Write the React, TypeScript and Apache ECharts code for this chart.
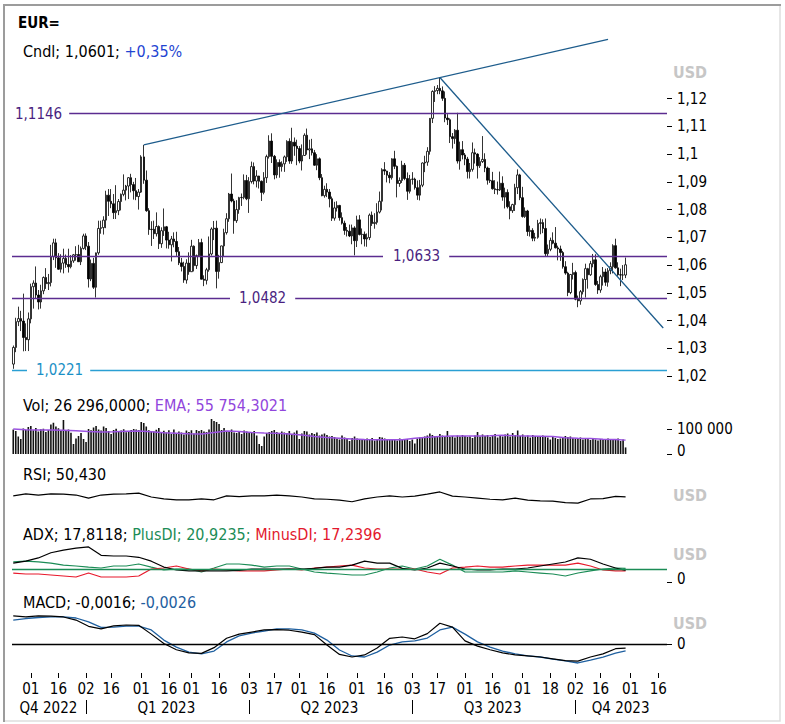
import React, { useEffect, useRef } from 'react';
import * as echarts from 'echarts';

const FONT = '"DejaVu Sans Condensed", "Liberation Sans", "DejaVu Sans", sans-serif';

// ---------------- data ----------------
const firstDay = '2022-11-22';
const axisDays = 261;

const opens = [
  1.0243, 1.0303, 1.0396, 1.0407, 1.0398, 1.0339, 1.0331, 1.0406, 1.0522, 1.0535,
  1.0492, 1.0467, 1.0507, 1.0555, 1.0533, 1.0537, 1.0631, 1.0680, 1.0626, 1.0585,
  1.0607, 1.0624, 1.0602, 1.0594, 1.0615, 1.0637, 1.0638, 1.0612, 1.0660, 1.0705,
  1.0668, 1.0550, 1.0606, 1.0520, 1.0644, 1.0732, 1.0735, 1.0762, 1.0852, 1.0830,
  1.0821, 1.0789, 1.0796, 1.0829, 1.0855, 1.0870, 1.0885, 1.0915, 1.0890, 1.0868,
  1.0847, 1.0863, 1.0990, 1.0906, 1.0796, 1.0728, 1.0729, 1.0713, 1.0739, 1.0677,
  1.0724, 1.0738, 1.0690, 1.0673, 1.0694, 1.0685, 1.0648, 1.0608, 1.0595, 1.0546,
  1.0607, 1.0576, 1.0668, 1.0598, 1.0634, 1.0681, 1.0549, 1.0545, 1.0583, 1.0640,
  1.0730, 1.0733, 1.0577, 1.0609, 1.0669, 1.0717, 1.0767, 1.0856, 1.0831, 1.0760,
  1.0800, 1.0843, 1.0844, 1.0905, 1.0839, 1.0901, 1.0955, 1.0903, 1.0921, 1.0902,
  1.0862, 1.0915, 1.0991, 1.1047, 1.0992, 1.0925, 1.0970, 1.0955, 1.0965, 1.0990,
  1.1046, 1.0975, 1.1043, 1.1029, 1.1020, 1.0975, 1.0995, 1.1068, 1.1015, 1.1019,
  1.1005, 1.0960, 1.0983, 1.0915, 1.0850, 1.0873, 1.0863, 1.0839, 1.0769, 1.0806,
  1.0815, 1.0771, 1.0751, 1.0725, 1.0722, 1.0705, 1.0734, 1.0688, 1.0763, 1.0710,
  1.0711, 1.0694, 1.0699, 1.0780, 1.0750, 1.0754, 1.0791, 1.0830, 1.0944, 1.0939,
  1.0924, 1.0915, 1.0983, 1.0956, 1.0894, 1.0905, 1.0960, 1.0912, 1.0866, 1.0909,
  1.0910, 1.0879, 1.0852, 1.0888, 1.0968, 1.0971, 1.1010, 1.1129, 1.1226, 1.1229,
  1.1237, 1.1228, 1.1201, 1.1130, 1.1124, 1.1063, 1.1056, 1.1086, 1.0975, 1.1016,
  1.0997, 1.0982, 1.0937, 1.0945, 1.1005, 1.1000, 1.0958, 1.0973, 1.0981, 1.0950,
  1.0906, 1.0904, 1.0875, 1.0872, 1.0871, 1.0895, 1.0845, 1.0862, 1.0810, 1.0796,
  1.0818, 1.0879, 1.0925, 1.0843, 1.0775, 1.0795, 1.0721, 1.0725, 1.0697, 1.0700,
  1.0750, 1.0753, 1.0732, 1.0641, 1.0657, 1.0689, 1.0679, 1.0662, 1.0658, 1.0645,
  1.0594, 1.0571, 1.0501, 1.0566, 1.0573, 1.0477, 1.0471, 1.0504, 1.0548, 1.0587,
  1.0565, 1.0605, 1.0619, 1.0530, 1.0510, 1.0558, 1.0575, 1.0538, 1.0580, 1.0594,
  1.0670, 1.0590, 1.0565, 1.0564, 1.0564
];
const highs = [
  1.0310, 1.0410, 1.0450, 1.0435, 1.0497, 1.0390, 1.0429, 1.0533, 1.0545, 1.0595,
  1.0510, 1.0529, 1.0559, 1.0589, 1.0568, 1.0673, 1.0695, 1.0695, 1.0643, 1.0639,
  1.0659, 1.0638, 1.0659, 1.0636, 1.0640, 1.0668, 1.0673, 1.0667, 1.0713, 1.0714,
  1.0683, 1.0620, 1.0626, 1.0645, 1.0760, 1.0760, 1.0776, 1.0868, 1.0874, 1.0874,
  1.0856, 1.0888, 1.0838, 1.0858, 1.0927, 1.0889, 1.0917, 1.0929, 1.0900, 1.0914,
  1.0874, 1.0996, 1.1033, 1.0941, 1.0805, 1.0758, 1.0760, 1.0790, 1.0743, 1.0736,
  1.0804, 1.0741, 1.0720, 1.0705, 1.0718, 1.0720, 1.0665, 1.0626, 1.0612, 1.0621,
  1.0646, 1.0691, 1.0671, 1.0638, 1.0694, 1.0695, 1.0563, 1.0590, 1.0703, 1.0736,
  1.0759, 1.0760, 1.0637, 1.0670, 1.0731, 1.0787, 1.0860, 1.0930, 1.0839, 1.0834,
  1.0846, 1.0858, 1.0927, 1.0925, 1.0917, 1.0973, 1.0970, 1.0942, 1.0922, 1.0905,
  1.0935, 1.0998, 1.1068, 1.1075, 1.0997, 1.0981, 1.0981, 1.0974, 1.0995, 1.1050,
  1.1057, 1.1095, 1.1060, 1.1052, 1.1029, 1.1035, 1.1075, 1.1092, 1.1052, 1.1055,
  1.1015, 1.1000, 1.0988, 1.0928, 1.0886, 1.0895, 1.0874, 1.0847, 1.0828, 1.0830,
  1.0817, 1.0790, 1.0760, 1.0737, 1.0746, 1.0746, 1.0740, 1.0778, 1.0780, 1.0732,
  1.0721, 1.0714, 1.0786, 1.0793, 1.0787, 1.0823, 1.0865, 1.0949, 1.0971, 1.0940,
  1.0935, 1.0985, 1.1012, 1.0959, 1.0916, 1.0976, 1.0968, 1.0934, 1.0925, 1.0935,
  1.0915, 1.0905, 1.0907, 1.0970, 1.0994, 1.1025, 1.1130, 1.1230, 1.1245, 1.1249,
  1.1276, 1.1244, 1.1226, 1.1144, 1.1129, 1.1076, 1.1090, 1.1149, 1.1045, 1.1047,
  1.1004, 1.0990, 1.0968, 1.1042, 1.1020, 1.1003, 1.0989, 1.1065, 1.1003, 1.0955,
  1.0950, 1.0936, 1.0906, 1.0901, 1.0937, 1.0920, 1.0879, 1.0873, 1.0830, 1.0821,
  1.0893, 1.0945, 1.0929, 1.0882, 1.0808, 1.0799, 1.0742, 1.0733, 1.0716, 1.0763,
  1.0768, 1.0765, 1.0768, 1.0674, 1.0699, 1.0718, 1.0737, 1.0670, 1.0670, 1.0651,
  1.0614, 1.0576, 1.0568, 1.0608, 1.0580, 1.0490, 1.0510, 1.0552, 1.0605, 1.0590,
  1.0615, 1.0640, 1.0639, 1.0543, 1.0565, 1.0593, 1.0587, 1.0589, 1.0610, 1.0675,
  1.0695, 1.0610, 1.0587, 1.0600, 1.0627
];
const lows = [
  1.0226, 1.0286, 1.0380, 1.0362, 1.0289, 1.0290, 1.0290, 1.0390, 1.0443, 1.0480,
  1.0440, 1.0443, 1.0495, 1.0514, 1.0510, 1.0523, 1.0618, 1.0590, 1.0583, 1.0573,
  1.0570, 1.0590, 1.0573, 1.0588, 1.0608, 1.0616, 1.0611, 1.0600, 1.0656, 1.0654,
  1.0519, 1.0542, 1.0514, 1.0483, 1.0637, 1.0713, 1.0710, 1.0733, 1.0777, 1.0805,
  1.0766, 1.0766, 1.0780, 1.0797, 1.0848, 1.0833, 1.0838, 1.0862, 1.0836, 1.0834,
  1.0800, 1.0860, 1.0893, 1.0792, 1.0709, 1.0669, 1.0694, 1.0703, 1.0658, 1.0662,
  1.0705, 1.0660, 1.0659, 1.0613, 1.0664, 1.0633, 1.0600, 1.0577, 1.0536, 1.0533,
  1.0565, 1.0575, 1.0577, 1.0586, 1.0631, 1.0548, 1.0524, 1.0530, 1.0576, 1.0634,
  1.0690, 1.0516, 1.0551, 1.0607, 1.0630, 1.0710, 1.0756, 1.0826, 1.0713, 1.0752,
  1.0785, 1.0813, 1.0837, 1.0834, 1.0788, 1.0894, 1.0891, 1.0880, 1.0876, 1.0831,
  1.0855, 1.0896, 1.0984, 1.0968, 1.0909, 1.0913, 1.0915, 1.0937, 1.0936, 1.0972,
  1.0965, 1.0965, 1.0994, 1.0960, 1.0967, 1.0941, 1.0994, 1.0998, 1.0982, 1.0995,
  1.0958, 1.0942, 1.0906, 1.0848, 1.0843, 1.0845, 1.0808, 1.0759, 1.0760, 1.0793,
  1.0760, 1.0746, 1.0709, 1.0703, 1.0701, 1.0675, 1.0635, 1.0665, 1.0707, 1.0675,
  1.0667, 1.0666, 1.0690, 1.0741, 1.0731, 1.0746, 1.0786, 1.0797, 1.0925, 1.0898,
  1.0895, 1.0908, 1.0946, 1.0844, 1.0882, 1.0896, 1.0906, 1.0835, 1.0858, 1.0890,
  1.0872, 1.0835, 1.0833, 1.0881, 1.0935, 1.0958, 1.0998, 1.1112, 1.1188, 1.1216,
  1.1216, 1.1192, 1.1115, 1.1105, 1.1040, 1.1020, 1.1037, 1.0966, 1.0944, 1.0981,
  1.0960, 1.0912, 1.0912, 1.0937, 1.0966, 1.0912, 1.0950, 1.0968, 1.0935, 1.0890,
  1.0896, 1.0872, 1.0856, 1.0854, 1.0867, 1.0832, 1.0804, 1.0804, 1.0765, 1.0788,
  1.0795, 1.0856, 1.0834, 1.0771, 1.0770, 1.0705, 1.0703, 1.0686, 1.0686, 1.0695,
  1.0711, 1.0715, 1.0631, 1.0632, 1.0650, 1.0675, 1.0660, 1.0617, 1.0615, 1.0587,
  1.0565, 1.0488, 1.0495, 1.0548, 1.0473, 1.0448, 1.0457, 1.0494, 1.0483, 1.0515,
  1.0561, 1.0592, 1.0525, 1.0496, 1.0500, 1.0526, 1.0525, 1.0522, 1.0567, 1.0570,
  1.0587, 1.0561, 1.0524, 1.0546, 1.0553
];
const closes = [
  1.0303, 1.0396, 1.0407, 1.0398, 1.0339, 1.0331, 1.0406, 1.0522, 1.0535, 1.0492,
  1.0467, 1.0507, 1.0555, 1.0533, 1.0537, 1.0631, 1.0680, 1.0626, 1.0585, 1.0607,
  1.0624, 1.0602, 1.0594, 1.0615, 1.0637, 1.0638, 1.0612, 1.0660, 1.0705, 1.0668,
  1.0550, 1.0606, 1.0520, 1.0644, 1.0732, 1.0735, 1.0762, 1.0852, 1.0830, 1.0821,
  1.0789, 1.0796, 1.0829, 1.0855, 1.0870, 1.0885, 1.0915, 1.0890, 1.0868, 1.0847,
  1.0863, 1.0990, 1.0906, 1.0796, 1.0728, 1.0729, 1.0713, 1.0739, 1.0677, 1.0724,
  1.0738, 1.0690, 1.0673, 1.0694, 1.0685, 1.0648, 1.0608, 1.0595, 1.0546, 1.0607,
  1.0576, 1.0668, 1.0598, 1.0634, 1.0681, 1.0549, 1.0545, 1.0583, 1.0640, 1.0730,
  1.0733, 1.0577, 1.0609, 1.0669, 1.0717, 1.0767, 1.0856, 1.0831, 1.0760, 1.0800,
  1.0843, 1.0844, 1.0905, 1.0839, 1.0901, 1.0955, 1.0903, 1.0921, 1.0902, 1.0862,
  1.0915, 1.0991, 1.1047, 1.0992, 1.0925, 1.0970, 1.0955, 1.0965, 1.0990, 1.1046,
  1.0975, 1.1043, 1.1029, 1.1020, 1.0975, 1.0995, 1.1068, 1.1015, 1.1019, 1.1005,
  1.0960, 1.0983, 1.0915, 1.0850, 1.0873, 1.0863, 1.0839, 1.0769, 1.0806, 1.0815,
  1.0771, 1.0751, 1.0725, 1.0722, 1.0705, 1.0734, 1.0688, 1.0763, 1.0710, 1.0711,
  1.0694, 1.0699, 1.0780, 1.0750, 1.0754, 1.0791, 1.0830, 1.0944, 1.0939, 1.0924,
  1.0915, 1.0983, 1.0956, 1.0894, 1.0905, 1.0960, 1.0912, 1.0866, 1.0909, 1.0910,
  1.0879, 1.0852, 1.0888, 1.0968, 1.0971, 1.1010, 1.1129, 1.1226, 1.1229, 1.1237,
  1.1228, 1.1201, 1.1130, 1.1124, 1.1063, 1.1056, 1.1086, 1.0975, 1.1016, 1.0997,
  1.0982, 1.0937, 1.0945, 1.1005, 1.1000, 1.0958, 1.0973, 1.0981, 1.0950, 1.0906,
  1.0904, 1.0875, 1.0872, 1.0871, 1.0895, 1.0845, 1.0862, 1.0810, 1.0796, 1.0818,
  1.0879, 1.0925, 1.0843, 1.0775, 1.0795, 1.0721, 1.0725, 1.0697, 1.0700, 1.0750,
  1.0753, 1.0732, 1.0641, 1.0657, 1.0689, 1.0679, 1.0662, 1.0658, 1.0645, 1.0594,
  1.0571, 1.0501, 1.0566, 1.0573, 1.0477, 1.0471, 1.0504, 1.0548, 1.0587, 1.0565,
  1.0605, 1.0619, 1.0530, 1.0510, 1.0558, 1.0575, 1.0538, 1.0580, 1.0594, 1.0670,
  1.0590, 1.0565, 1.0564, 1.0564, 1.0601
];
// volume, thousands
const volumesK = [
  98, 92, 70, 60, 102, 96, 108, 112, 95, 104,
  90, 99, 101, 88, 96, 118, 125, 110, 103, 92,
  136, 92, 98, 85, 40, 62, 72, 84, 60, 48,
  100, 95, 106, 112, 98, 94, 110, 104, 92, 80,
  96, 101, 88, 94, 99, 87, 92, 96, 100, 98,
  96, 128, 124, 110, 95, 92, 90, 97, 104, 88,
  93, 86, 95, 80, 98, 84, 90, 86, 78, 94,
  88, 95, 82, 96, 92, 96, 90, 88, 98, 140,
  132, 128, 120, 96, 104, 92, 90, 98, 86, 84,
  88, 80, 94, 90, 86, 88, 92, 74, 40, 32,
  70, 84, 88, 92, 96, 88, 82, 90, 86, 84,
  92, 80, 86, 94, 60, 82, 92, 90, 78, 84,
  80, 86, 74, 78, 82, 76, 70, 72, 68, 62,
  58, 74, 66, 60, 52, 64, 70, 62, 58, 60,
  56, 62, 58, 64, 54, 60, 68, 66, 62, 58,
  56, 60, 58, 54, 62, 58, 56, 60, 52, 58,
  42, 62, 66, 64, 70, 74, 82, 76, 72, 68,
  80, 74, 70, 92, 68, 72, 66, 74, 70, 76,
  72, 68, 70, 64, 74, 88, 70, 78, 72, 76,
  68, 72, 80, 66, 74, 70, 78, 82, 70, 84,
  76, 94, 72, 78, 70, 74, 66, 76, 72, 70,
  68, 74, 72, 66, 58, 70, 64, 60, 62, 66,
  72, 68, 70, 64, 62, 60, 66, 58, 60, 62,
  56, 60, 58, 54, 60, 58, 56, 62, 60, 58,
  56, 62, 52, 58, 26.296
];
// indicators, read weekly (every 5th session, plus the last one)
const volEmaK = [
  100, 97, 96, 96, 95, 93, 90, 88, 89, 91,
  92, 89, 85, 83, 81, 80, 86, 92, 90, 86,
  84, 83, 80, 76, 70, 66, 63, 60, 58, 57,
  57, 57, 63, 67, 70, 72, 72, 72, 73, 75,
  73, 72, 71, 70, 65, 63, 62, 59, 58, 55.754
];
const rsiVals = [
  54, 61, 57, 61, 60, 57, 46, 57, 60, 61,
  64, 50, 43, 40, 40, 43, 40, 54, 51, 54,
  54, 57, 54, 50, 43, 42, 39, 33, 43, 50,
  54, 50, 53, 60, 68, 53, 50, 46, 42, 40,
  46, 39, 36, 35, 30, 28, 43, 44, 52, 50.43
];
const adxVals = [
  29, 32, 37, 45, 49, 52, 54, 41, 40, 40,
  38, 32, 23, 18.5, 17, 17, 17, 17, 18, 20,
  20, 20, 20, 20, 21, 23, 23, 26, 32, 29,
  29, 21, 18.5, 21.5, 29, 24.6, 20, 18.5, 18.5, 20,
  20, 21.5, 24.6, 27.7, 30.8, 37, 35, 27.7, 21.5, 17.8118
];
const plusDIVals = [
  31, 32, 31, 29, 26, 24.6, 23, 21.5, 24.6, 24.6,
  27.7, 23, 18.5, 20, 20, 15.4, 21.5, 27.7, 27.7, 26,
  23, 24.6, 24.6, 20, 15.4, 13.8, 12.3, 10.8, 10.8, 15.4,
  21.5, 24.6, 20, 24.6, 35, 26, 15.4, 15.4, 15.4, 15.4,
  17, 15.4, 13.8, 12.3, 9.2, 13.8, 17, 20, 21.5, 20.9235
];
const minusDIVals = [
  13.8, 12.3, 12.3, 10.8, 9.2, 7.7, 13.8, 7.7, 7.7, 7.7,
  9.2, 20, 21.5, 24.6, 20, 17, 20, 18.5, 17, 17,
  17, 18.5, 20, 18.5, 21.5, 23, 24.6, 26, 21.5, 20,
  20, 20, 20, 15.4, 12.3, 21.5, 23, 24.6, 23, 23,
  24.6, 26, 26, 26, 26, 29, 24.6, 18.5, 17, 17.2396
];
const macdVals = [
  0.0108, 0.0104, 0.0108, 0.0107, 0.0104, 0.0092, 0.0068, 0.0058, 0.0070, 0.0073,
  0.0072, 0.0038, 0.0002, -0.0022, -0.0034, -0.0036, -0.0014, 0.0022, 0.0038, 0.0046,
  0.0054, 0.0055, 0.0053, 0.0046, 0.0036, -0.0004, -0.0040, -0.0050, -0.0042, -0.0015,
  0.0022, 0.0027, 0.0020, 0.0040, 0.0080, 0.0065, 0.0012, -0.0008, -0.0022, -0.0034,
  -0.0042, -0.0046, -0.0050, -0.0057, -0.0064, -0.0066, -0.0050, -0.0038, -0.0018, -0.0016
];
const signalVals = [
  0.0092, 0.0098, 0.0102, 0.0104, 0.0104, 0.0100, 0.0085, 0.0064, 0.0065, 0.0069,
  0.0069, 0.0054, 0.0015, -0.0012, -0.0031, -0.0038, -0.0027, 0.0008, 0.0031, 0.0042,
  0.0050, 0.0058, 0.0058, 0.0054, 0.0042, 0.0015, -0.0023, -0.0046, -0.0050, -0.0031,
  -0.0004, 0.0008, 0.0012, 0.0023, 0.0054, 0.0065, 0.0038, 0.0008, -0.0012, -0.0027,
  -0.0038, -0.0046, -0.0050, -0.0058, -0.0065, -0.0073, -0.0062, -0.0050, -0.0035, -0.0026
];

const priceTicks = [1.02, 1.03, 1.04, 1.05, 1.06, 1.07, 1.08, 1.09, 1.1, 1.11, 1.12];
const volTicksK = [0, 100];
const levelValues = [1.1146, 1.0633, 1.0482];
const baseLevel = 1.0221;
const adxLevel = 20;
const upTrendAnchors: [string, number][] = [['2023-02-02', 1.1033], ['2023-07-18', 1.1276]];
const upTrendEnd = '2023-10-19';
const downTrendAnchors: [string, number][] = [['2023-07-18', 1.1276], ['2023-11-20', 1.0373]];
const dayLabelDates = [
  '2022-12-01', '2022-12-16', '2023-01-02', '2023-01-16', '2023-02-01', '2023-02-16',
  '2023-03-01', '2023-03-16', '2023-04-03', '2023-04-17', '2023-05-01', '2023-05-16',
  '2023-06-01', '2023-06-16', '2023-07-03', '2023-07-17', '2023-08-01', '2023-08-16',
  '2023-09-01', '2023-09-18', '2023-10-02', '2023-10-16', '2023-11-01', '2023-11-16'
];
const quarterStarts = ['2023-01-02', '2023-04-03', '2023-07-03', '2023-10-02'];
const quarterNames = ['Q4 2022', 'Q1 2023', 'Q2 2023', 'Q3 2023', 'Q4 2023'];

// ---------------- helpers ----------------
function buildDates(start: string, n: number): string[] {
  const out: string[] = [];
  const d = new Date(start + 'T00:00:00Z');
  while (out.length < n) {
    const wd = d.getUTCDay();
    if (wd !== 0 && wd !== 6) out.push(d.toISOString().slice(0, 10));
    d.setUTCDate(d.getUTCDate() + 1);
  }
  return out;
}
const comma = (s: string) => s.replace('.', ',');
const fmt4 = (v: number) => comma(v.toFixed(4));
const spaced = (n: number) => String(Math.round(n)).replace(/\B(?=(\d{3})+(?!\d))/g, ' ');

export default function App() {
  const ref = useRef<HTMLDivElement>(null);

  useEffect(() => {
    if (!ref.current) return;
    const chart = echarts.init(ref.current, null, { renderer: 'svg' });

    const dates = buildDates(firstDay, axisDays);
    const idxOf = (d: string) => dates.indexOf(d);
    const lastIdx = closes.length - 1;
    const sampleIdx = volEmaK.map((_, k) => (k < volEmaK.length - 1 ? k * 5 : lastIdx));
    const pairs = (vals: number[]) => vals.map((v, k) => [sampleIdx[k], v]);

    const dayLabelSet = new Set(dayLabelDates);
    const qStartSet = new Set(quarterStarts);
    const bounds = [0, ...quarterStarts.map(idxOf), dates.length];
    const qMid: Record<number, string> = {};
    quarterNames.forEach((name, q) => {
      qMid[Math.round((bounds[q] + bounds[q + 1] - 1) / 2)] = name;
    });

    const [uA, uB] = upTrendAnchors;
    const uAi = idxOf(uA[0]);
    const uBi = idxOf(uB[0]);
    const uEi = idxOf(upTrendEnd);
    const uEv = uA[1] + ((uB[1] - uA[1]) * (uEi - uAi)) / (uBi - uAi);

    const trendStyle = { color: '#1d5c8c', width: 1.3, type: 'solid' };
    const levelLayout = [
      { dx: 0, pad: [1, 7, 1, 3] },
      { dx: 371, pad: [1, 9, 1, 10] },
      { dx: 218, pad: [1, 9, 1, 9] }
    ];

    const gridBase = { left: 12, right: 118 };
    const hiddenX = (gi: number) => ({
      type: 'category', gridIndex: gi, data: dates, boundaryGap: true, show: false,
      axisLine: { show: false, onZero: false }
    });
    const labelStyle = { color: '#000', fontSize: 15, fontFamily: FONT };
    const zeroRich = { z: { padding: [0, 0, 6, 0], color: '#000', fontSize: 15, fontFamily: FONT } };

    const headerText = (y: number, parts: [string, string][]) => ({
      type: 'text', x: 23, y, silent: true,
      style: {
        text: parts.map((p, j) => `{s${j}|${p[0]}}`).join(''),
        rich: Object.fromEntries(parts.map((p, j) => [`s${j}`, { fill: p[1], fontSize: 16, fontFamily: FONT }])),
        fontSize: 16, fontFamily: FONT, verticalAlign: 'middle'
      }
    });
    const usd = (y: number) => ({
      type: 'text', x: 673, y, silent: true,
      style: { text: 'USD', fill: '#c6c6c6', fontSize: 16, fontWeight: 'bold', fontFamily: FONT, verticalAlign: 'middle' }
    });

    const option: any = {
      animation: false,
      backgroundColor: '#ffffff',
      textStyle: { fontFamily: FONT },
      grid: [
        { ...gridBase, top: 39, height: 347 },
        { ...gridBase, top: 415, height: 39 },
        { ...gridBase, top: 483, height: 28 },
        { ...gridBase, top: 540, height: 42 },
        { ...gridBase, top: 605, height: 68 }
      ],
      xAxis: [
        hiddenX(0), hiddenX(1), hiddenX(2), hiddenX(3),
        {
          type: 'category', gridIndex: 4, data: dates, boundaryGap: true, position: 'bottom',
          axisLine: { show: false, onZero: false },
          axisTick: {
            show: true, alignWithLabel: true, length: 5,
            interval: (_i: number, v: string) => dayLabelSet.has(v),
            lineStyle: { color: '#000', width: 1 }
          },
          axisLabel: {
            ...labelStyle, margin: 8,
            interval: (_i: number, v: string) => dayLabelSet.has(v),
            formatter: (v: string) => v.slice(8)
          },
          splitLine: { show: false }
        },
        {
          type: 'category', gridIndex: 4, data: dates, boundaryGap: true, position: 'bottom', offset: 27,
          axisLine: { show: false, onZero: false },
          axisTick: {
            show: true, alignWithLabel: true, length: 14,
            interval: (_i: number, v: string) => qStartSet.has(v),
            lineStyle: { color: '#000', width: 1 }
          },
          axisLabel: {
            ...labelStyle, margin: 0,
            interval: (i: number) => qMid[i] !== undefined,
            formatter: (_v: string, i: number) => qMid[i] || ''
          },
          splitLine: { show: false }
        }
      ],
      yAxis: [
        {
          type: 'value', gridIndex: 0, position: 'right', min: 1.0164, max: 1.1415,
          axisLine: { show: false }, splitLine: { show: false },
          axisTick: { show: true, length: 5, customValues: priceTicks, lineStyle: { color: '#000' } },
          axisLabel: { ...labelStyle, margin: 10, customValues: priceTicks, formatter: (v: number) => comma(String(+v.toFixed(2))) }
        },
        {
          type: 'value', gridIndex: 1, position: 'right', min: 0, max: 156,
          axisLine: { show: false }, splitLine: { show: false },
          axisTick: { show: true, length: 5, customValues: volTicksK, lineStyle: { color: '#000' } },
          axisLabel: {
            ...labelStyle, margin: 10, customValues: volTicksK, rich: zeroRich,
            formatter: (v: number) => (v === 0 ? '{z|0}' : spaced(v * 1000))
          }
        },
        { type: 'value', gridIndex: 2, min: 0, max: 100, show: false },
        {
          type: 'value', gridIndex: 3, position: 'right', min: 0, max: 64.6,
          axisLine: { show: false }, splitLine: { show: false },
          axisTick: { show: true, length: 5, customValues: [0], lineStyle: { color: '#000' } },
          axisLabel: { ...labelStyle, margin: 10, customValues: [0], rich: zeroRich, formatter: () => '{z|0}' }
        },
        {
          type: 'value', gridIndex: 4, position: 'right', min: -0.01115, max: 0.015,
          axisLine: { show: false }, splitLine: { show: false },
          axisTick: { show: true, length: 5, customValues: [0], lineStyle: { color: '#000' } },
          axisLabel: { ...labelStyle, margin: 10, customValues: [0], formatter: () => '0' }
        }
      ],
      series: [
        {
          type: 'candlestick', xAxisIndex: 0, yAxisIndex: 0, barWidth: 2,
          data: closes.map((c, i) => [opens[i], c, lows[i], highs[i]]),
          itemStyle: { color: '#ffffff', color0: '#000000', borderColor: '#000000', borderColor0: '#000000', borderWidth: 0.8 },
          markLine: {
            silent: true, symbol: ['none', 'none'], animation: false, precision: 4,
            data: [
              ...levelValues.map((v, j) => ({
                yAxis: v,
                lineStyle: { color: '#5b2c90', width: 1.3, type: 'solid' },
                label: {
                  show: true, position: 'insideStart', distance: [levelLayout[j].dx, 0],
                  formatter: fmt4(v), color: '#4a1f80', fontSize: 15, fontFamily: FONT,
                  backgroundColor: '#ffffff', padding: levelLayout[j].pad
                }
              })),
              {
                yAxis: baseLevel,
                lineStyle: { color: '#2a9fd3', width: 1.3, type: 'solid' },
                label: {
                  show: true, position: 'insideStart', distance: [15, 0],
                  formatter: fmt4(baseLevel), color: '#1a90c6', fontSize: 15, fontFamily: FONT,
                  backgroundColor: '#ffffff', padding: [1, 7, 1, 9]
                }
              },
              [
                { coord: [uAi, uA[1]], lineStyle: trendStyle, label: { show: false } },
                { coord: [uEi, uEv] }
              ],
              [
                { coord: [idxOf(downTrendAnchors[0][0]), downTrendAnchors[0][1]], lineStyle: trendStyle, label: { show: false } },
                { coord: [idxOf(downTrendAnchors[1][0]), downTrendAnchors[1][1]] }
              ]
            ]
          }
        },
        {
          type: 'bar', xAxisIndex: 1, yAxisIndex: 1, data: volumesK, barWidth: 1.6,
          itemStyle: { color: '#111111' }
        },
        {
          type: 'line', xAxisIndex: 1, yAxisIndex: 1, data: pairs(volEmaK), symbol: 'none',
          lineStyle: { color: '#9a52e0', width: 1.3 }
        },
        {
          type: 'line', xAxisIndex: 2, yAxisIndex: 2, data: pairs(rsiVals), symbol: 'none',
          lineStyle: { color: '#000', width: 1.2 }
        },
        {
          type: 'line', xAxisIndex: 3, yAxisIndex: 3, data: pairs(plusDIVals), symbol: 'none',
          lineStyle: { color: '#1b8c56', width: 1.2 },
          markLine: {
            silent: true, symbol: ['none', 'none'], animation: false, label: { show: false }, precision: 4,
            lineStyle: { color: '#1b8c56', width: 1.3, type: 'solid' },
            data: [{ yAxis: adxLevel }]
          }
        },
        {
          type: 'line', xAxisIndex: 3, yAxisIndex: 3, data: pairs(minusDIVals), symbol: 'none',
          lineStyle: { color: '#e8192c', width: 1.2 }
        },
        {
          type: 'line', xAxisIndex: 3, yAxisIndex: 3, data: pairs(adxVals), symbol: 'none',
          lineStyle: { color: '#000', width: 1.2 }
        },
        {
          type: 'line', xAxisIndex: 4, yAxisIndex: 4, data: pairs(signalVals), symbol: 'none',
          lineStyle: { color: '#1f60a0', width: 1.3 }
        },
        {
          type: 'line', xAxisIndex: 4, yAxisIndex: 4, data: pairs(macdVals), symbol: 'none',
          lineStyle: { color: '#000', width: 1.2 },
          markLine: {
            silent: true, symbol: ['none', 'none'], animation: false, label: { show: false }, precision: 4,
            lineStyle: { color: '#000', width: 1.3, type: 'solid' },
            data: [{ yAxis: 0 }]
          }
        }
      ],
      graphic: [
        { type: 'rect', silent: true, shape: { x: 4, y: 5, width: 776, height: 716 }, style: { fill: 'none', stroke: '#dedede', lineWidth: 1.5 } },
        { type: 'line', silent: true, shape: { x1: 3, y1: 5, x2: 781, y2: 5 }, style: { stroke: '#9c9c9c', lineWidth: 2 } },
        { type: 'line', silent: true, shape: { x1: 4, y1: 4, x2: 4, y2: 722 }, style: { stroke: '#9c9c9c', lineWidth: 2 } },
        {
          type: 'text', x: 18, y: 23, silent: true,
          style: { text: 'EUR=', fill: '#000', fontSize: 15, fontWeight: 'bold', fontFamily: FONT, verticalAlign: 'middle' }
        },
        headerText(51, [['Cndl; 1,0601; ', '#000'], ['+0,35%', '#1f45d2']]),
        headerText(405, [['Vol; 26 296,0000; ', '#000'], ['EMA; 55 754,3021', '#9146dc']]),
        headerText(474, [['RSI; 50,430', '#000']]),
        headerText(534, [['ADX; 17,8118; ', '#000'], ['PlusDI; 20,9235; ', '#1b8c56'], ['MinusDI; 17,2396', '#e3182d']]),
        headerText(602, [['MACD; -0,0016; ', '#000'], ['-0,0026', '#1f60a0']]),
        usd(72), usd(495), usd(554), usd(623)
      ]
    };

    chart.setOption(option);
    return () => chart.dispose();
  }, []);

  return (
    <div
      ref={ref}
      style={{ position: 'absolute', left: 0, top: 0, width: 785, height: 724, background: '#fff' }}
    />
  );
}
